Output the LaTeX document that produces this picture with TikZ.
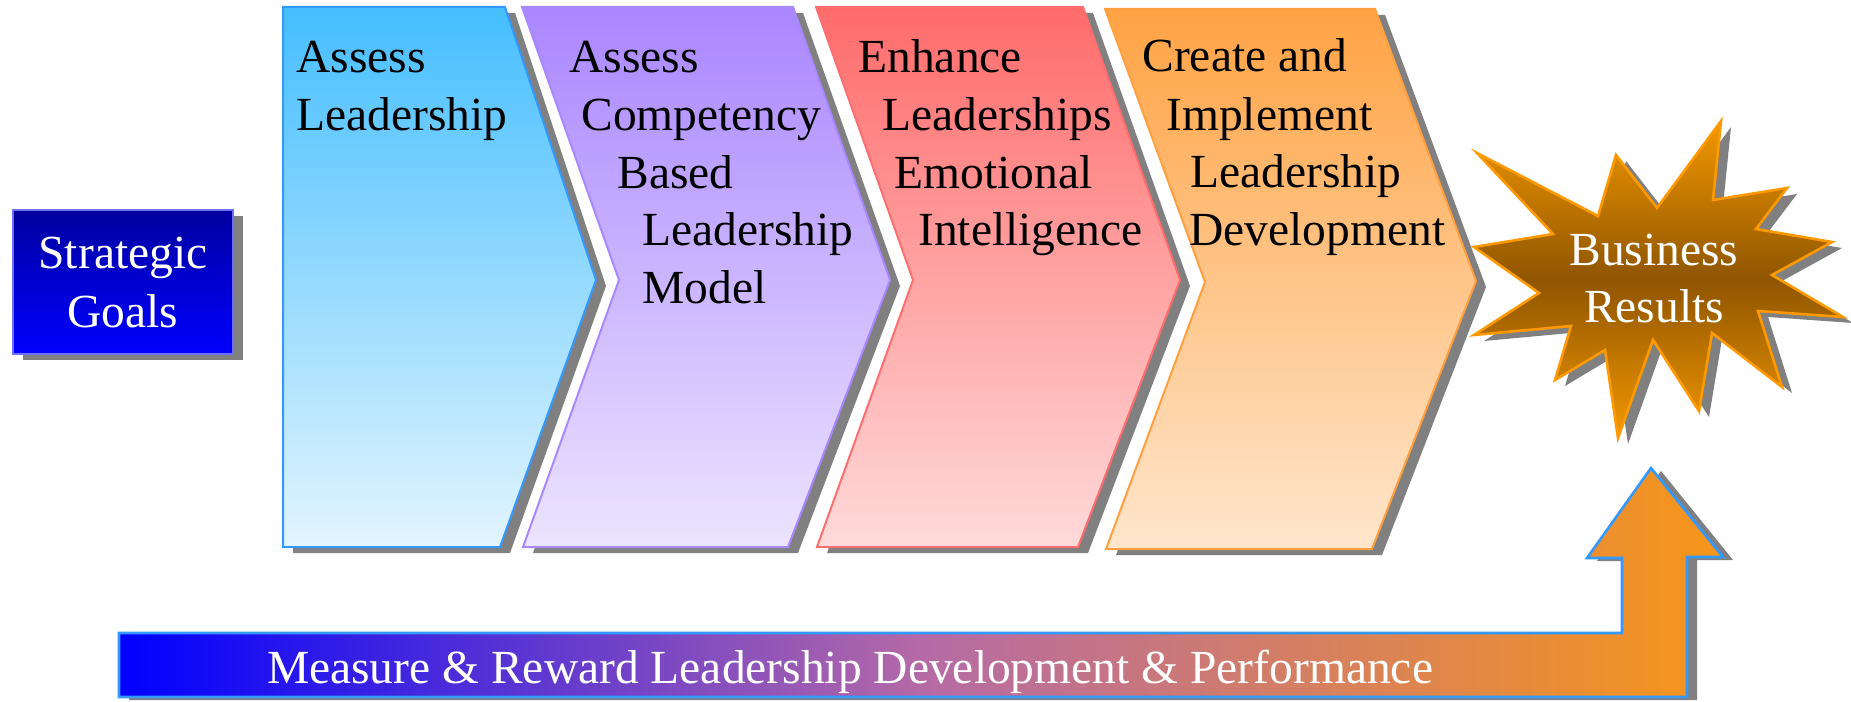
\documentclass[tikz,border=0pt]{standalone}
\usepackage{fontspec}
\setmainfont{Liberation Serif}
\definecolor{shadowgray}{RGB}{128,128,128}
\definecolor{cAtop}{RGB}{69,190,255}
\definecolor{cAbot}{RGB}{227,245,255}
\definecolor{cAline}{RGB}{51,153,255}
\definecolor{cBtop}{RGB}{170,134,255}
\definecolor{cBbot}{RGB}{236,228,255}
\definecolor{cBline}{RGB}{169,136,255}
\definecolor{cCtop}{RGB}{255,107,107}
\definecolor{cCbot}{RGB}{255,218,218}
\definecolor{cCline}{RGB}{255,110,110}
\definecolor{cDtop}{RGB}{255,163,68}
\definecolor{cDbot}{RGB}{255,230,204}
\definecolor{cDline}{RGB}{255,160,64}
\definecolor{stOrange}{RGB}{243,152,0}
\definecolor{stBrown}{RGB}{143,85,0}
\definecolor{stLine}{RGB}{255,153,0}
\definecolor{gTop}{RGB}{0,0,160}
\definecolor{gBot}{RGB}{0,0,255}
\definecolor{gLine}{RGB}{110,110,255}
\definecolor{aLeft}{RGB}{0,0,255}
\definecolor{aMid}{RGB}{181,106,166}
\definecolor{aRight}{RGB}{247,150,24}
\definecolor{aLine}{RGB}{51,153,255}
\begin{document}
\begin{tikzpicture}[x=0.5pt,y=-0.5pt,
  shadowshape/.style={fill=shadowgray,draw=none,xshift=5pt,yshift=-3pt},
  chevshape/.style n args={3}{top color=#1,bottom color=#2,draw=#3,line width=1pt,line join=miter},
  lbl/.style={anchor=base west,inner sep=0pt,font=\fontsize{23.75}{29}\selectfont},
  wlbl/.style={anchor=base,inner sep=0pt,text=white,font=\fontsize{23.75}{29}\selectfont}]
\useasboundingbox (0,0) rectangle (1851,701);

% Strategic Goals box
\def\goalsbox{(13,210) rectangle (233,354)}
\fill[shadowshape] \goalsbox;
\path[top color=gTop,bottom color=gBot,draw=gLine,line width=0.6pt] \goalsbox;
\node[wlbl] (g1) at (123,268) {Strategic};
\node[wlbl] (g2) at (123,327) {Goals};

% Chevron 1
\def\chA{(283,7) -- (505,7) -- (596,280) -- (500,547) -- (283,547) -- cycle}
\fill[shadowshape] \chA;
\path[chevshape={cAtop}{cAbot}{cAline}] \chA;
\node[lbl] (a1) at (296,73) {Assess};
\node[lbl] (a2) at (296,130) {Leadership};

% Chevron 2
\def\chB{(522,7) -- (793,7) -- (890,280) -- (788,547) -- (523,547) -- (619,280) -- cycle}
\fill[shadowshape] \chB;
\path[chevshape={cBtop}{cBbot}{cBline}] \chB;
\node[lbl] (b1) at (569,73) {Assess};
\node[lbl] (b2) at (581,130) {Competency};
\node[lbl] (b3) at (617,188) {Based};
\node[lbl] (b4) at (642,245) {Leadership};
\node[lbl] (b5) at (642,303) {Model};

% Chevron 3
\def\chC{(816,7) -- (1083,7) -- (1180,280) -- (1078,547) -- (817,547) -- (913,280) -- cycle}
\fill[shadowshape] \chC;
\path[chevshape={cCtop}{cCbot}{cCline}] \chC;
\node[lbl] (c1) at (858,73) {Enhance};
\node[lbl] (c2) at (882,130) {Leaderships};
\node[lbl] (c3) at (894,188) {Emotional};
\node[lbl] (c4) at (918,245) {Intelligence};

% Chevron 4
\def\chD{(1105,9) -- (1375,9) -- (1476,281) -- (1372,549) -- (1106,549) -- (1205,282) -- cycle}
\fill[shadowshape] \chD;
\path[chevshape={cDtop}{cDbot}{cDline}] \chD;
\node[lbl] (d1) at (1142,72) {Create and};
\node[lbl] (d2) at (1166,130) {Implement};
\node[lbl] (d3) at (1190,187) {Leadership};
\node[lbl] (d4) at (1189,245) {Development};

% Star
\def\starpath{(1721,121) -- (1713,200) -- (1787,188) -- (1756,229) -- (1832,242) -- (1772,275) -- (1843,317) -- (1758,311) -- (1782,387) -- (1712,333) -- (1699,411) -- (1653,340) -- (1618,438) -- (1605,350) -- (1555,380) -- (1571,326) -- (1474,335) -- (1539,293) -- (1474,247) -- (1553,234) -- (1477,153) -- (1598,216) -- (1616,155) -- (1657,208) -- cycle}
\fill[shadowshape] \starpath;
\path[top color=stOrange,bottom color=stOrange,middle color=stBrown,draw=stLine,line width=1.3pt,line join=miter] \starpath;
\node[wlbl] (s1) at (1654,265) {Business};
\node[wlbl] (s2) at (1654,322) {Results};

% Bottom arrow
\def\arrowpath{(119,633) -- (1622,633) -- (1622,558) -- (1587,558) -- (1651,468) -- (1723,557) -- (1687,557) -- (1687,697) -- (119,697) -- cycle}
\fill[shadowshape,yshift=1.5pt] \arrowpath;
\path[left color=aLeft,right color=aRight,middle color=aMid,draw=aLine,line width=1.3pt,line join=miter] \arrowpath;
\node[wlbl] (m1) at (850,683) {Measure \& Reward Leadership Development \& Performance};
\end{tikzpicture}
\end{document}
